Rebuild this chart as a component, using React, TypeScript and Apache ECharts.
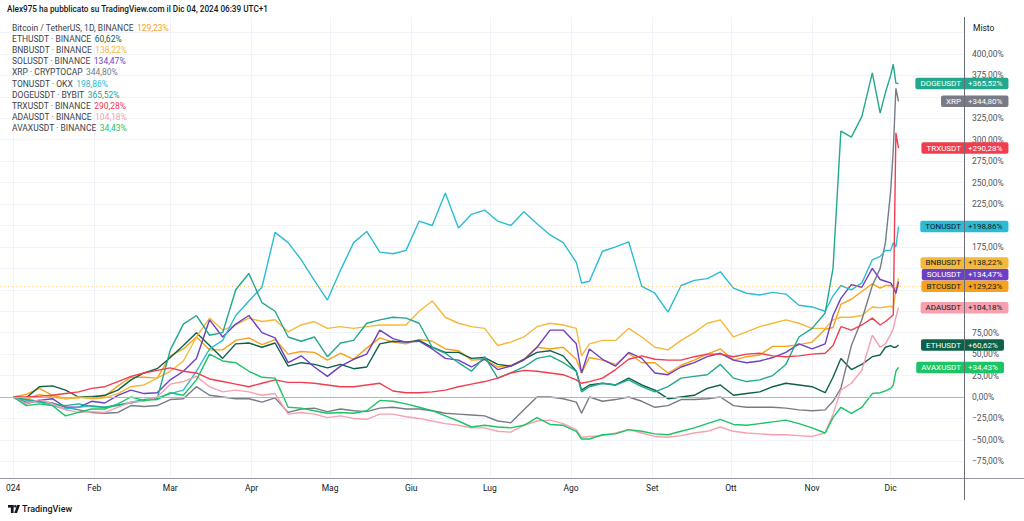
import React, { useEffect, useRef } from 'react';
import * as echarts from 'echarts';

// sample days (0 = 1 Jan 2024)
const DAYS = [0,5,10,15,20,25,30,35,40,45,50,55,60,65,70,75,80,85,90,95,100,105,110,115,120,125,130,135,140,145,150,155,160,165,170,175,180,185,190,195,200,205,210,215,217,220,225,230,235,240,245,250,255,260,265,270,275,280,285,290,295,300,305,310,313,316,320,324,328,331,333,335,336,337,338];

const BTC = [0,3,10,2,-2,-1,1,1,13,23, 23,22,48,56,70,55,55,66,69,61, 67,50,53,52,43,51,44,57,69,64, 62,67,65,56,54,43,44,35,37,44, 58,56,58,44,28,46,43,38,51,40, 40,28,37,43,50,56,43,47,49,59, 59,61,64,79,81,108,114,123,132,127, 130,130,127,127,129.23];
const ETH = [0,-1,12,13,8,0,0,2,8,20, 28,33,46,60,75,60,45,62,63,58, 63,36,40,38,34,38,33,35,62,65, 64,66,58,52,52,45,46,38,36,44, 52,54,48,30,8,14,16,14,22,14, 8,-2,0,2,10,14,2,4,6,12, 16,14,12,5,23,45,32,38,47,49, 58,60,58,58,60.62];
const BNB = [0,-3,3,0,-2,0,-2,-1,4,12, 14,22,30,42,70,92,78,84,92,88, 90,76,84,88,80,82,80,82,84,84, 84,100,112,93,86,82,80,60,64,70, 82,86,84,80,48,62,66,66,80,70, 58,55,66,75,86,90,70,76,82,86, 90,86,80,80,90,93,93,95,105,104, 105,106,104,125,138.22];
const SOL = [0,-8,-4,-2,-12,-12,-5,-7,2,8, 4,5,20,30,45,90,70,85,95,75, 69,40,48,35,24,36,44,50,78,68, 64,65,56,45,43,35,44,32,36,43, 58,78,78,62,28,56,44,36,52,45, 28,26,35,40,47,51,43,40,42,46, 52,62,56,62,95,115,131,128,150,137, 135,133,128,121,134.47];
const XRP = [0,-6,-5,-7,-12,-15,-18,-19,-18,-10, -11,-10,-3,-2,12,2,0,-2,-2,-6, -1,-18,-14,-13,-17,-14,-16,-17,-13,-12, -14,-14,-16,-19,-20,-21,-22,-28,-30,-15, 0,0,-2,-6,-19,0,-5,-3,0,-5, -12,-10,-3,-3,-2,0,-10,-12,-12,-12, -13,-15,-16,-15,-5,10,60,90,130,150, 180,240,288,360,344.8];
const TON = [0,-4,-6,-10,-14,-12,-10,-12,-9,-7, -4,-1,4,8,30,56,66,95,112,128, 192,180,160,136,113,148,180,193,169,167, 171,205,200,238,197,213,218,205,200,216, 202,189,180,157,133,135,170,175,181,129, 121,99,130,136,138,146,127,121,119,122, 120,107,105,100,118,130,125,133,160,164, 171,171,180,175,198.86];
const DOGE = [0,-3,-5,-8,-10,-8,-11,-12,-10,-6, -3,-2,55,85,95,72,75,125,144,110, 100,70,65,70,47,63,66,86,90,93, 92,86,58,51,40,30,47,22,28,35, 45,48,40,30,6,12,16,14,20,12, 6,12,22,24,26,38,22,18,20,25, 38,70,80,98,150,310,303,327,378,331, 355,375,388,366,365.52];
const TRX = [0,0,1,2,4,6,10,12,18,24, 28,31,34,30,28,21,18,15,12,16, 20,17,17,16,14,12,12,14,16,7, 5,5,6,8,12,15,18,22,28,31, 30,28,26,20,16,18,22,32,44,48, 44,43,43,47,50,50,47,50,51,48, 47,48,50,51,60,82,78,84,92,84, 88,93,96,308,290.28];
const ADA = [0,-8,-3,-8,-15,-18,-17,-18,-12,-6, -5,0,15,18,24,12,6,8,6,2, 4,-20,-18,-20,-24,-22,-25,-26,-20,-20, -23,-25,-28,-31,-33,-36,-36,-40,-41,-33, -28,-27,-31,-38,-47,-46,-45,-42,-38,-42, -46,-47,-45,-42,-40,-35,-40,-42,-43,-44, -44,-45,-46,-42,-20,8,16,31,72,58, 62,73,80,93,104.18];
const AVAX = [0,-10,-8,-10,-22,-18,-14,-14,-8,0, -4,-3,5,2,20,50,42,40,30,23, 22,-12,-13,-16,-19,-18,-19,-16,-4,-5, -8,-12,-16,-22,-28,-35,-33,-35,-36,-33, -24,-32,-33,-40,-49,-49,-44,-43,-38,-40, -43,-44,-40,-36,-31,-26,-32,-33,-31,-29, -27,-31,-36,-42,-24,-12,-19,-12,4,5, 7,10,14,30,34.43];

const LEGEND_NAMES = ['Bitcoin / TetherUS, 1D, BINANCE','ETHUSDT · BINANCE','BNBUSDT · BINANCE','SOLUSDT · BINANCE','XRP · CRYPTOCAP','TONUSDT · OKX','DOGEUSDT · BYBIT','TRXUSDT · BINANCE','ADAUSDT · BINANCE','AVAXUSDT · BINANCE'];
const BADGE_NAMES = ['BTCUSDT','ETHUSDT','BNBUSDT','SOLUSDT','XRP','TONUSDT','DOGEUSDT','TRXUSDT','ADAUSDT','AVAXUSDT'];
const MONTH_LABELS = ['024','Feb','Mar','Apr','Mag','Giu','Lug','Ago','Set','Ott','Nov','Dic'];
const HEADER = 'Alex975 ha pubblicato su TradingView.com il Dic 04, 2024 06:39 UTC+1';

const START = Date.UTC(2023, 11, 27);
const DAY_OFFSET = 5;
const CATEGORIES: string[] = Array.from({ length: 369 }, (_, i) => new Date(START + i * 86400000).toISOString().slice(0, 10));

const VALUES = [BTC, ETH, BNB, SOL, XRP, TON, DOGE, TRX, ADA, AVAX];
const COLORS = ['#f7a21b','#0c6148','#f5b93a','#6d3fc4','#787b86','#2bbcd4','#22a88f','#f23d4f','#f6a1ad','#1bc464'];
const INKS = ['#131722','#ffffff','#131722','#ffffff','#ffffff','#131722','#ffffff','#ffffff','#131722','#ffffff'];

const FONT = "Roboto, 'Noto Sans', sans-serif";
const pct = (v: number) => v.toFixed(2).replace('.', ',') + '%';
const axisPct = (v: number) => (v < 0 ? '\u2212' + pct(-v) : pct(v));
const isMonthStart = (v: string) => v.startsWith('2024') && v.endsWith('-01');

export default function App() {
  const ref = useRef<HTMLDivElement>(null);
  useEffect(() => {
    if (!ref.current) return;
    const chart = echarts.init(ref.current, undefined, { renderer: 'svg' });
    const hidden = new Set<number>();
    const series: any[] = VALUES.map((vals, i) => ({
      type: 'line',
      name: BADGE_NAMES[i],
      data: DAYS.map((d, j) => [d + DAY_OFFSET, vals[j]]),
      symbol: 'none',
      showSymbol: false,
      silent: true,
      lineStyle: { color: COLORS[i], width: 1.4 },
      itemStyle: { color: COLORS[i] },
      z: 3,
      markLine: i === 0 ? {
        silent: true,
        symbol: ['none', 'none'],
        label: { show: false },
        data: [
          { yAxis: 0, lineStyle: { color: '#b2b5be', type: 'solid', width: 1 } },
          { yAxis: BTC[BTC.length - 1], lineStyle: { color: COLORS[0], type: [1, 3], width: 1, opacity: 0.55 } },
        ],
      } : undefined,
    }));

    const yAxisOpt = () => ({
      type: 'value',
      position: 'right',
      min: -100,
      max: 450,
      interval: 25,
      axisLine: { show: false },
      axisTick: { show: false },
      axisLabel: {
        formatter: (v: number) => (v > 400 || v < -75 || hidden.has(v) ? '' : axisPct(v)),
        color: '#50535e',
        fontSize: 8.5,
        fontFamily: FONT,
        margin: 8,
        showMinLabel: false,
        showMaxLabel: false,
      },
      splitLine: { show: true, showMinLine: false, showMaxLine: false, lineStyle: { color: '#f0f3fa', width: 1 } },
    });

    chart.setOption({
      animation: false,
      backgroundColor: '#ffffff',
      grid: { left: -1, right: 60, top: 11.1, bottom: 38.25, containLabel: false },
      xAxis: {
        type: 'category',
        data: CATEGORIES,
        boundaryGap: false,
        axisLine: { show: false },
        axisTick: { show: false },
        axisLabel: {
          interval: (_i: number, v: string) => isMonthStart(v),
          formatter: (v: string) => MONTH_LABELS[parseInt(v.slice(5, 7), 10) - 1],
          color: '#131722',
          fontSize: 8.5,
          fontFamily: FONT,
          margin: 1,
        },
        splitLine: { show: true, interval: (_i: number, v: string) => isMonthStart(v), lineStyle: { color: '#f0f3fa', width: 1 } },
      },
      yAxis: yAxisOpt(),
      series,
    });

    // badges positioned with the library's y scale, stacked to avoid overlap
    const items = VALUES.map((vals, i) => {
      const last = vals[vals.length - 1];
      const y = chart.convertToPixel({ yAxisIndex: 0 }, last) as number;
      return { i, last, y };
    }).sort((a, b) => b.y - a.y);
    const H = 11.6;
    for (let k = 1; k < items.length; k++) {
      items[k].y = Math.min(items[k].y, items[k - 1].y - H);
    }
    // hide tick labels that are covered by a badge
    for (let v = -75; v <= 400; v += 25) {
      const py = chart.convertToPixel({ yAxisIndex: 0 }, v) as number;
      if (items.some((it) => Math.abs(it.y - py) < 7)) hidden.add(v);
    }

    const graphics: any[] = [
      { type: 'rect', shape: { x: 0, y: 0, width: 1024, height: 17 }, style: { fill: '#ffffff' }, z: 50, silent: true },
      { type: 'rect', shape: { x: 0, y: 478.5, width: 964, height: 5 }, style: { fill: '#ffffff' }, z: 50, silent: true },
      { type: 'line', shape: { x1: 0, y1: 478.5, x2: 1024, y2: 478.5 }, style: { stroke: '#9598a1', lineWidth: 1 }, z: 51, silent: true },
      { type: 'text', x: 7, y: 9, style: { text: HEADER, font: `500 8.2px ${FONT}`, fill: '#131722', verticalAlign: 'middle' }, z: 52 },
      { type: 'text', x: 973, y: 28, style: { text: 'Misto', font: `8.5px ${FONT}`, fill: '#131722', verticalAlign: 'middle' }, z: 52 },
    ];

    VALUES.forEach((vals, i) => {
      graphics.push({
        type: 'text', x: 12, y: 28 + i * 11.1, z: 52,
        style: {
          text: `{n|${LEGEND_NAMES[i]}} {v|${pct(vals[vals.length - 1])}}`,
          verticalAlign: 'middle',
          rich: {
            n: { fill: '#3b3f4a', fontSize: 8.5, fontFamily: FONT },
            v: { fill: COLORS[i], fontSize: 8.5, fontFamily: FONT },
          },
        },
      });
    });

    items.forEach(({ i, last, y }) => {
      graphics.push({
        type: 'text', x: 964, y, z: 60,
        style: {
          text: BADGE_NAMES[i], fill: INKS[i], font: `8px ${FONT}`, lineHeight: 9,
          backgroundColor: COLORS[i], padding: [1.5, 3, 1, 5], borderRadius: [2, 0, 0, 2],
          align: 'right', verticalAlign: 'middle',
        },
      });
      graphics.push({
        type: 'text', x: 964, y, z: 60,
        style: {
          text: '+' + pct(last), fill: INKS[i], font: `8px ${FONT}`, lineHeight: 9,
          backgroundColor: COLORS[i], padding: [1.5, 6, 1, 4], borderRadius: [0, 2, 2, 0],
          align: 'left', verticalAlign: 'middle',
        },
      });
    });

    graphics.push({ type: 'line', shape: { x1: 964.5, y1: 17, x2: 964.5, y2: 500 }, style: { stroke: '#6a6d78', lineWidth: 1 }, z: 61, silent: true });

    // TradingView logo + wordmark
    graphics.push(
      { type: 'rect', shape: { x: 8, y: 505, width: 5.6, height: 2.6 }, style: { fill: '#131722' }, z: 52 },
      { type: 'rect', shape: { x: 10.9, y: 505, width: 2.7, height: 8 }, style: { fill: '#131722' }, z: 52 },
      { type: 'circle', shape: { cx: 15.4, cy: 506.3, r: 1.3 }, style: { fill: '#131722' }, z: 52 },
      { type: 'polygon', shape: { points: [[17.2, 505], [20, 505], [17, 513], [14.2, 513]] }, style: { fill: '#131722' }, z: 52 },
      { type: 'text', x: 22, y: 509, style: { text: 'TradingView', font: `500 9px ${FONT}`, fill: '#131722', verticalAlign: 'middle' }, z: 52 },
    );

    chart.setOption({ yAxis: yAxisOpt(), graphic: graphics });
    return () => chart.dispose();
  }, []);
  return <div ref={ref} style={{ position: 'absolute', left: 0, top: 0, width: 1024, height: 521 }} />;
}
